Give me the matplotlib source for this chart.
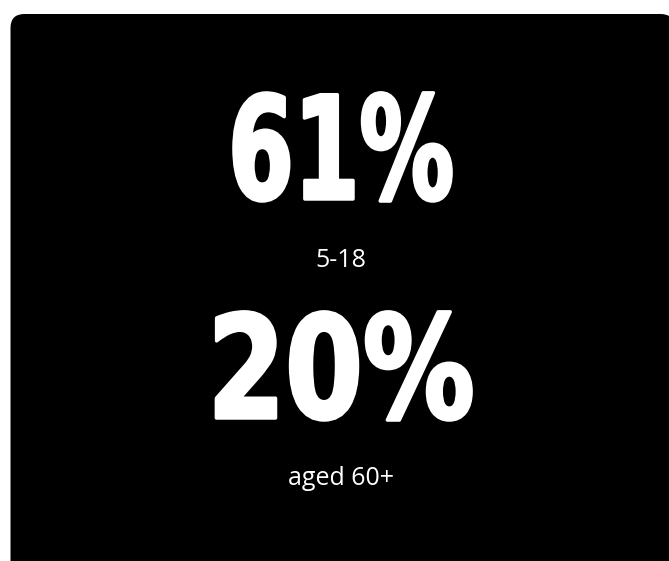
import matplotlib
matplotlib.use("Agg")
import matplotlib.pyplot as plt
from matplotlib.patches import FancyBboxPatch
from matplotlib.patheffects import AbstractPathEffect
from matplotlib.transforms import Affine2D

# figures shown on the card
big_values = ["61%", "20%"]
captions = ["5-18", "aged 60+"]

W, H = 669, 561


class Squeeze(AbstractPathEffect):
    # narrows a text horizontally around its centre and thickens it a bit
    def __init__(self, sx, cx, lw=2.5):
        super().__init__()
        self.sx = sx
        self.cx = cx
        self.lw = lw

    def draw_path(self, renderer, gc, tpath, affine, rgbFace=None):
        t = affine + Affine2D().translate(-self.cx, 0).scale(self.sx, 1).translate(self.cx, 0)
        gc0 = renderer.new_gc()
        gc0.copy_properties(gc)
        gc0.set_linewidth(self.lw)
        gc0.set_foreground(rgbFace)
        gc0.set_joinstyle("round")
        renderer.draw_path(gc0, tpath, t, rgbFace)
        gc0.restore()


fig = plt.figure(figsize=(W / 100, H / 100), dpi=100)
fig.patch.set_facecolor("white")
ax = fig.add_axes([0, 0, 1, 1])
ax.set_xlim(0, W)
ax.set_ylim(H, 0)
ax.axis("off")

card = FancyBboxPatch((10.5, 14), 664, 600, boxstyle="round,pad=0,rounding_size=14",
                      facecolor="black", edgecolor="none")
ax.add_patch(card)

cx = 341
big_base = [199, 418]
squeeze = [0.66, 0.78]
cap_base = [267, 485]

for val, yb, sx in zip(big_values, big_base, squeeze):
    ax.text(cx, yb, val, color="white", ha="center", va="baseline",
            fontsize=103, fontweight="bold", family="DejaVu Sans",
            path_effects=[Squeeze(sx, cx)])

for cap, yb in zip(captions, cap_base):
    ax.text(cx, yb, cap, color="white", ha="center", va="baseline",
            fontsize=18, family=["Open Sans", "DejaVu Sans"])

fig.savefig("out.png", dpi=100, facecolor=fig.get_facecolor())
